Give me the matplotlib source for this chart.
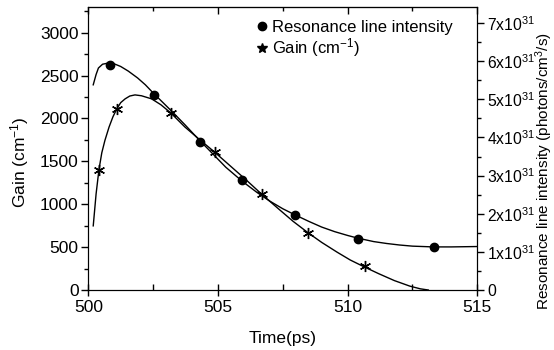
#!/usr/bin/env python3
"""Gain and resonance line intensity vs time."""

import matplotlib

matplotlib.use("Agg")
import matplotlib.pyplot as plt
from matplotlib.ticker import FuncFormatter, MultipleLocator

# measured points
res_time = [500.85, 502.52, 504.29, 505.93, 507.98, 510.40, 513.32]
res_intensity = [5.89, 5.11, 3.88, 2.88, 1.96, 1.35, 1.12]  # x1e31 photons/cm^3/s
gain_time = [500.42, 501.10, 503.19, 504.87, 506.70, 508.49, 510.65]
gain_value = [1400, 2113, 2060, 1608, 1118, 665, 275]  # cm^-1

# fitted curves
res_fit_time = [500.19, 500.30, 500.39, 500.55, 500.77, 501.00, 501.25, 501.54, 501.90,
                502.20, 502.51, 502.90, 503.30, 503.73, 504.28, 504.80, 505.30, 505.92,
                506.50, 507.00, 507.50, 507.97, 508.50, 509.00, 509.50, 510.00, 510.39,
                511.00, 511.50, 512.00, 512.50, 513.30, 514.00, 515.00]
res_fit_value = [5.38, 5.65, 5.82, 5.92, 5.95, 5.93, 5.86, 5.74, 5.56,
                 5.38, 5.16, 4.90, 4.63, 4.33, 3.93, 3.57, 3.22, 2.86,
                 2.56, 2.33, 2.13, 1.97, 1.80, 1.65, 1.53, 1.43, 1.36,
                 1.27, 1.22, 1.18, 1.15, 1.13, 1.13, 1.14]
gain_fit_time = [500.19, 500.30, 500.41, 500.52, 500.64, 500.80, 500.95, 501.10, 501.25,
                 501.42, 501.60, 501.80, 502.05, 502.44, 502.80, 503.19, 503.73, 504.30,
                 504.87, 505.50, 506.10, 506.69, 507.30, 507.90, 508.48, 509.00, 509.60,
                 510.10, 510.63, 511.20, 511.80, 512.40, 512.80, 513.11]
gain_fit_value = [748, 1120, 1403, 1600, 1744, 1900, 2020, 2113, 2185,
                  2229, 2262, 2275, 2265, 2229, 2160, 2062, 1899, 1752,
                  1608, 1440, 1280, 1116, 955, 800, 666, 555, 440,
                  350, 271, 190, 110, 45, 14, 0]

plt.rcParams["font.family"] = ["Liberation Sans", "DejaVu Sans"]
plt.rcParams["mathtext.fontset"] = "custom"
plt.rcParams["mathtext.rm"] = "Liberation Sans"
plt.rcParams["mathtext.it"] = "Liberation Sans"
FONTSIZE = 12.5

fig = plt.figure(figsize=(5.54, 3.5), dpi=100)
ax = fig.add_axes([0.1594, 0.1714, 0.7022, 0.8086])
ax2 = ax.twinx()

ax.plot(gain_fit_time, gain_fit_value, color="black", linewidth=1.0)
ax.plot(gain_time, gain_value, linestyle="none", marker=(6, 2, 0), markersize=8,
        markeredgewidth=1.0, color="black")
ax2.plot(res_fit_time, res_fit_value, color="black", linewidth=1.0)
ax2.plot(res_time, res_intensity, linestyle="none", marker="o", markersize=6, color="black")

ax.set_xlim(500, 515)
ax.set_ylim(0, 3300)
ax2.set_ylim(0, 7.42)

ax.xaxis.set_major_locator(MultipleLocator(5))
ax.xaxis.set_minor_locator(MultipleLocator(2.5))
ax.yaxis.set_major_locator(MultipleLocator(500))
ax.yaxis.set_minor_locator(MultipleLocator(250))
ax2.yaxis.set_major_locator(MultipleLocator(1))
ax2.yaxis.set_minor_locator(MultipleLocator(0.5))


def sci_fmt(v, _pos):
    if abs(v) < 1e-9:
        return "0"
    return f"{int(round(v))}x10$^{{31}}$"


ax2.yaxis.set_major_formatter(FuncFormatter(sci_fmt))

ax.tick_params(axis="x", which="major", direction="inout", length=8, width=1, labelsize=FONTSIZE, pad=3)
ax.tick_params(axis="x", which="minor", direction="in", length=4, width=1)
ax.tick_params(axis="y", which="major", direction="out", length=5, width=1, labelsize=FONTSIZE, pad=2)
ax.tick_params(axis="y", which="minor", direction="out", length=3, width=1)
ax2.tick_params(axis="y", which="major", direction="out", length=5, width=1, labelsize=11.3, pad=2)
ax2.tick_params(axis="y", which="minor", direction="out", length=3, width=1)

top = ax.secondary_xaxis("top")
top.xaxis.set_major_locator(MultipleLocator(5))
top.xaxis.set_minor_locator(MultipleLocator(2.5))
top.tick_params(which="major", direction="in", length=5, width=1, labeltop=False)
top.tick_params(which="minor", direction="in", length=3, width=1)

# axis titles placed in figure coordinates
fig.text(0.511, 0.034, "Time(ps)", fontsize=FONTSIZE, ha="center", va="center")
fig.text(0.036, 0.537, "Gain (cm$^{-1}$)", fontsize=FONTSIZE, ha="center", va="center",
         rotation=90)
fig.text(0.983, 0.51, "Resonance line intensity (photons/cm$^{3}$/s)", fontsize=11,
         ha="center", va="center", rotation=90)

handles = [
    plt.Line2D([], [], linestyle="none", marker="o", markersize=6, color="black"),
    plt.Line2D([], [], linestyle="none", marker="*", markersize=7, color="black"),
]
ax.legend(handles, ["Resonance line intensity", "Gain (cm$^{-1}$)"], loc="upper left",
          bbox_to_anchor=(0.405, 0.995), frameon=False, fontsize=12,
          handlelength=0.5, handletextpad=0.35, labelspacing=0.08, borderaxespad=0.3)

fig.savefig("out.png", dpi=100)
